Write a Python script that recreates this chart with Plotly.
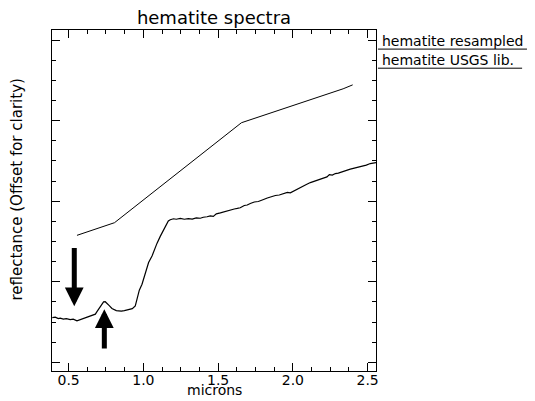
import plotly.graph_objects as go

# ---- data ----
resampled_x = [0.556, 0.661, 0.807, 1.656, 2.167, 2.209, 2.262, 2.336, 2.400]
resampled_y = [0.2576, 0.2640, 0.2733, 0.3974, 0.4290, 0.4317, 0.4348, 0.4395, 0.4444]

usgs_x = [0.391, 0.411, 0.431, 0.444, 0.465, 0.485, 0.511, 0.531, 0.556, 0.578,
          0.600, 0.618, 0.638, 0.658, 0.679, 0.692, 0.705, 0.719, 0.734, 0.745,
          0.757, 0.772, 0.790, 0.806, 0.819, 0.834, 0.853, 0.873, 0.891, 0.906,
          0.926, 0.946, 0.953, 0.962, 0.973, 0.991, 1.006, 1.020, 1.035, 1.058,
          1.073, 1.091, 1.113, 1.135, 1.154, 1.167, 1.180, 1.202, 1.220, 1.247,
          1.274, 1.301, 1.327, 1.354, 1.381, 1.401, 1.426, 1.448, 1.468, 1.488,
          1.515, 1.535, 1.560, 1.582, 1.608, 1.628, 1.648, 1.675, 1.695, 1.715,
          1.742, 1.769, 1.789, 1.804, 1.829, 1.856, 1.883, 1.909, 1.936, 1.963,
          1.983, 2.010, 2.030, 2.050, 2.070, 2.090, 2.117, 2.139, 2.164, 2.184,
          2.204, 2.228, 2.244, 2.264, 2.284, 2.304, 2.331, 2.362, 2.384, 2.411,
          2.438, 2.465, 2.491, 2.518, 2.538, 2.556]
usgs_y = [0.1554, 0.1561, 0.1542, 0.1548, 0.1536, 0.1542, 0.1530, 0.1536, 0.1515, 0.1530,
          0.1545, 0.1548, 0.1567, 0.1579, 0.1598, 0.1635, 0.1672, 0.1715, 0.1750, 0.1752,
          0.1734, 0.1703, 0.1668, 0.1647, 0.1641, 0.1639, 0.1635, 0.1641, 0.1647, 0.1653,
          0.1666, 0.1700, 0.1746, 0.1824, 0.1895, 0.1969, 0.2068, 0.2155, 0.2238, 0.2319,
          0.2402, 0.2476, 0.2563, 0.2644, 0.2712, 0.2755, 0.2770, 0.2782, 0.2776, 0.2786,
          0.2776, 0.2783, 0.2778, 0.2792, 0.2788, 0.2801, 0.2807, 0.2817, 0.2811, 0.2842,
          0.2854, 0.2866, 0.2876, 0.2885, 0.2903, 0.2910, 0.2918, 0.2947, 0.2953, 0.2972,
          0.2990, 0.2996, 0.3015, 0.3021, 0.3040, 0.3058, 0.3071, 0.3077, 0.3089, 0.3108,
          0.3104, 0.3132, 0.3151, 0.3163, 0.3188, 0.3207, 0.3231, 0.3247, 0.3262, 0.3281,
          0.3287, 0.3302, 0.3330, 0.3324, 0.3343, 0.3349, 0.3368, 0.3392, 0.3398, 0.3411,
          0.3423, 0.3429, 0.3448, 0.3467, 0.3473, 0.3479]

# arrows marking the absorption features: (x, tail y, tip y)
arrow_x = [0.538, 0.739]
arrow_tail_y = [0.2439, 0.1152]
arrow_tip_y = [0.1697, 0.1660]

series_names = ["hematite resampled", "hematite USGS lib."]
x_tick_vals = [0.5, 1.0, 1.5, 2.0, 2.5]
x_tick_text = ["0.5", "1.0", "1.5", "2.0", "2.5"]

FONT = "DejaVu Sans"

fig = go.Figure()
fig.add_trace(go.Scatter(x=resampled_x, y=resampled_y, mode="lines",
                         line=dict(color="black", width=1), name=series_names[0],
                         showlegend=False))
fig.add_trace(go.Scatter(x=usgs_x, y=usgs_y, mode="lines",
                         line=dict(color="black", width=1.2), name=series_names[1],
                         showlegend=False))

annotations = []
for ax_, ty, hy in zip(arrow_x, arrow_tail_y, arrow_tip_y):
    annotations.append(dict(x=ax_, y=hy, ax=ax_, ay=ty, xref="x", yref="y",
                            axref="x", ayref="y", text="", showarrow=True,
                            arrowhead=2, arrowwidth=5, arrowsize=0.75,
                            arrowcolor="black"))

# legend (text with line underneath)
leg_y = [0.968, 0.911]
line_y = [0.944, 0.888]
line_x1 = [1.466, 1.451]
shapes = []
for name, ty, ly, lx in zip(series_names, leg_y, line_y, line_x1):
    annotations.append(dict(x=1.012, y=ty, xref="paper", yref="paper",
                            text=name, showarrow=False, xanchor="left",
                            yanchor="middle", font=dict(family=FONT, size=14, color="black")))
    shapes.append(dict(type="line", xref="paper", yref="paper",
                       x0=1.006, x1=lx, y0=ly, y1=ly,
                       line=dict(color="black", width=1)))

annotations.append(dict(x=0, y=0.532, xref="paper", yref="paper", xshift=-35,
                        text="reflectance (Offset for clarity)", textangle=-90,
                        showarrow=False, xanchor="center", yanchor="middle",
                        font=dict(family=FONT, size=15, color="black")))
annotations.append(dict(x=0.5, y=0, xref="paper", yref="paper", yshift=-29,
                        text="microns", showarrow=False, xanchor="center",
                        yanchor="bottom", font=dict(family=FONT, size=14, color="black")))

fig.update_layout(
    width=535, height=401,
    margin=dict(l=52, r=159, t=30, b=30, autoexpand=False),
    paper_bgcolor="white", plot_bgcolor="white",
    font=dict(family=FONT, color="black"),
    title=dict(text="hematite spectra", x=0.5, xref="paper", y=1 - 18 / 401,
               yref="container", xanchor="center", yanchor="middle",
               font=dict(family=FONT, size=18, color="black")),
    annotations=annotations,
    shapes=shapes,
)
fig.update_xaxes(range=[0.389, 2.556], showgrid=False, zeroline=False, automargin=False,
                 showline=True, linecolor="black", linewidth=1, mirror="ticks",
                 ticks="inside", ticklen=8, tickcolor="black",
                 tickvals=x_tick_vals, ticktext=x_tick_text,
                 ticklabelstandoff=-4,
                 tickfont=dict(family=FONT, size=14, color="black"),
                 minor=dict(ticks="inside", ticklen=4, dtick=0.125, tick0=0.5,
                            tickcolor="black", showgrid=False))
fig.update_yaxes(range=[0.0892, 0.5125], showgrid=False, zeroline=False, automargin=False,
                 showline=True, linecolor="black", linewidth=1, mirror="ticks",
                 ticks="inside", ticklen=8, tickcolor="black",
                 tick0=0.1, dtick=0.1, showticklabels=False,
                 minor=dict(ticks="inside", ticklen=4, dtick=0.025, tick0=0.1,
                            tickcolor="black", showgrid=False))

fig.write_html("out.html", config={"displayModeBar": False},
               post_script="document.body.style.margin='0';document.body.style.overflow='hidden';")
